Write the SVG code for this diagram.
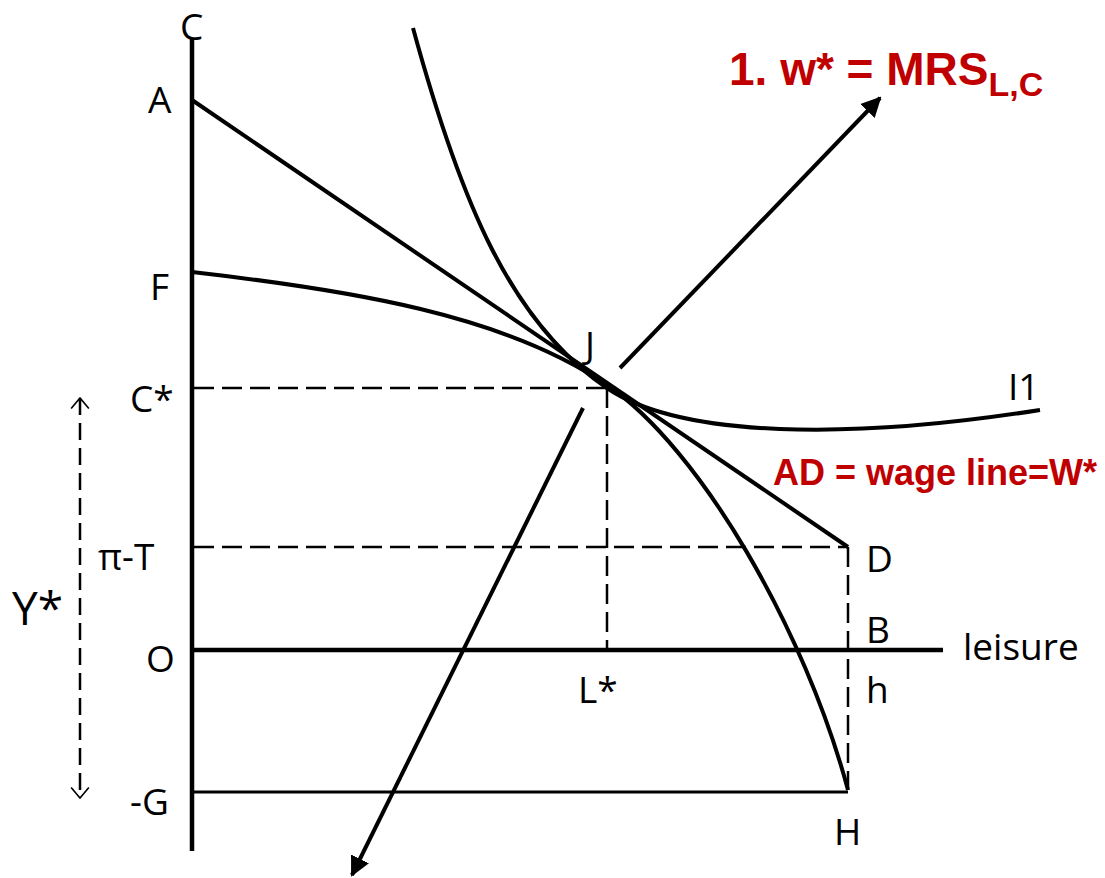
<svg xmlns="http://www.w3.org/2000/svg" width="1105" height="878" viewBox="0 0 1105 878">
<style>
.ax{stroke:#000;stroke-width:4.5;fill:none}
.ln{stroke:#000;stroke-width:4;fill:none}
.thin{stroke:#000;stroke-width:3;fill:none}
.dash{stroke:#000;stroke-width:2.5;fill:none;stroke-dasharray:20,8}
.lbl{font-family:"Open Sans","Liberation Sans",Arial,sans-serif;font-size:37px;fill:#000}
.red{font-family:"Liberation Sans",Arial,sans-serif;font-weight:bold;fill:#C00000}
</style>
<defs>
<marker id="ah" viewBox="0 0 10 10" refX="9" refY="5" markerWidth="5" markerHeight="5" orient="auto" markerUnits="strokeWidth">
<path d="M0,0 L10,5 L0,10 z" fill="#000"/>
</marker>
<marker id="oh" viewBox="0 0 12 20" refX="11" refY="10" markerWidth="5" markerHeight="8.4" orient="auto-start-reverse" markerUnits="strokeWidth">
<path d="M1,1.5 L11,10 L1,18.5" fill="none" stroke="#000" stroke-width="1.6"/>
</marker>
</defs>
<g id="connectors">
<line class="ax" x1="192" y1="38" x2="192" y2="851"/>
<line class="ax" x1="190" y1="650" x2="943" y2="650"/>
<line class="thin" x1="192" y1="792" x2="848" y2="792"/>
<line class="ln" x1="192" y1="100" x2="848" y2="547"/>
<path class="ln" d="M192,272 C350,290 505,315 607,385 C700,448 805,630 848,790"/>
<path class="ln" d="M413,28 C460,200 510,322 607,388 C680,438 850,440 1040,410"/>
<line class="dash" x1="194" y1="388" x2="607" y2="388"/>
<line class="dash" x1="607" y1="388" x2="607" y2="650"/>
<line class="dash" x1="194" y1="547" x2="848" y2="547"/>
<line class="dash" x1="848" y1="547" x2="848" y2="790"/>
<line class="dash" style="stroke-dasharray:17,8" x1="80" y1="398" x2="80" y2="798" marker-start="url(#oh)" marker-end="url(#oh)"/>
<line class="ln" x1="620" y1="368" x2="880" y2="98" marker-end="url(#ah)"/>
<line class="ln" x1="583" y1="408" x2="352" y2="875" marker-end="url(#ah)"/>
</g>
<g id="labels">
<text class="lbl" x="180" y="40">C</text>
<text class="lbl" x="148" y="113">A</text>
<text class="lbl" x="150" y="300">F</text>
<text class="lbl" x="130" y="412">C*</text>
<text class="lbl" x="98" y="570">π-T</text>
<text class="lbl" x="146" y="672">O</text>
<text class="lbl" x="130" y="815">-G</text>
<text class="lbl" x="12" y="625" style="font-size:46px">Y*</text>
<text class="lbl" x="585" y="358">J</text>
<text class="lbl" x="1008" y="400">I1</text>
<text class="lbl" x="866" y="572">D</text>
<text class="lbl" x="866" y="643">B</text>
<text class="lbl" x="963" y="660">leisure</text>
<text class="lbl" x="578" y="703">L*</text>
<text class="lbl" x="866" y="703">h</text>
<text class="lbl" x="834" y="845">H</text>
<text class="red" x="729" y="85" style="font-size:46px">1. w* = MRS<tspan dy="11" style="font-size:34px">L,C</tspan></text>
<text class="red" x="773" y="485" style="font-size:36px">AD = wage line=W*</text>
</g>
</svg>
